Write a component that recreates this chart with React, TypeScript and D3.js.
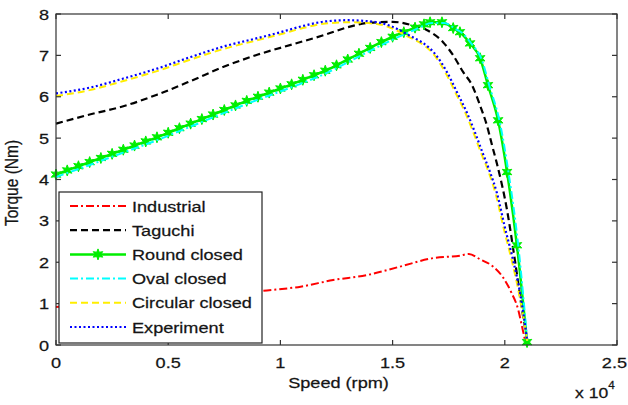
import * as d3 from 'd3';
import React from 'react';

// speed in 1e4 rpm, torque in Nm
const industrialX = [0, 0.3, 0.6, 0.94, 1.09, 1.235, 1.385, 1.53, 1.68, 1.8, 1.84, 1.89, 1.947, 1.99, 2.03, 2.06, 2.077, 2.09];
const industrialY = [0.92, 1.04, 1.16, 1.32, 1.41, 1.57, 1.69, 1.89, 2.1, 2.16, 2.2, 2.07, 1.9, 1.65, 1.26, 0.85, 0.44, 0.12];

const taguchiX = [0, 0.15, 0.3, 0.45, 0.6, 0.75, 0.9, 1.05, 1.2, 1.3, 1.4, 1.5, 1.58, 1.65, 1.725, 1.77, 1.814, 1.854, 1.889, 1.92, 1.943, 1.965, 2.01, 2.045, 2.077, 2.1];
const taguchiY = [5.35, 5.57, 5.77, 6.05, 6.38, 6.73, 7.02, 7.26, 7.5, 7.68, 7.79, 7.81, 7.74, 7.62, 7.32, 7.0, 6.6, 6.28, 5.8, 5.31, 4.83, 4.38, 3.26, 2.05, 0.85, 0.1];

const roundX = [0, 0.05, 0.1, 0.15, 0.2, 0.25, 0.3, 0.35, 0.4, 0.45, 0.5, 0.55, 0.6, 0.65, 0.7, 0.75, 0.8, 0.85, 0.9, 0.95, 1.0, 1.05, 1.1, 1.15, 1.2, 1.25, 1.3, 1.35, 1.4, 1.45, 1.5, 1.55, 1.6, 1.64, 1.667, 1.72, 1.77, 1.8, 1.845, 1.89, 1.925, 1.97, 2.01, 2.054, 2.099];
const roundY = [4.12, 4.22, 4.32, 4.42, 4.52, 4.62, 4.72, 4.82, 4.92, 5.02, 5.13, 5.24, 5.35, 5.46, 5.57, 5.68, 5.79, 5.9, 6.0, 6.1, 6.2, 6.3, 6.41, 6.52, 6.63, 6.76, 6.9, 7.04, 7.18, 7.32, 7.45, 7.56, 7.67, 7.75, 7.8, 7.8, 7.66, 7.56, 7.29, 6.93, 6.28, 5.43, 4.18, 2.41, 0.07];

const ovalX = [0, 0.15, 0.3, 0.45, 0.6, 0.75, 0.9, 1.05, 1.2, 1.3, 1.4, 1.5, 1.6, 1.675, 1.73, 1.78, 1.81, 1.853, 1.897, 1.932, 1.977, 2.017, 2.06, 2.1];
const ovalY = [4.06, 4.35, 4.65, 4.95, 5.28, 5.61, 5.93, 6.23, 6.56, 6.83, 7.11, 7.38, 7.62, 7.78, 7.78, 7.64, 7.54, 7.27, 6.9, 6.25, 5.4, 4.15, 2.4, 0.1];

const circularX = [0, 0.15, 0.3, 0.45, 0.6, 0.75, 0.9, 1.0, 1.1, 1.2, 1.3, 1.43, 1.56, 1.695, 1.737, 1.782, 1.825, 1.862, 1.895, 1.93, 1.96, 1.995, 2.032, 2.064, 2.1];
const circularY = [6.02, 6.16, 6.38, 6.62, 6.9, 7.16, 7.37, 7.51, 7.66, 7.77, 7.8, 7.76, 7.48, 6.94, 6.57, 6.08, 5.6, 5.11, 4.63, 4.15, 3.64, 2.82, 2.02, 1.23, 0.1];

const experimentX = [0, 0.15, 0.3, 0.45, 0.6, 0.75, 0.9, 1.0, 1.1, 1.2, 1.3, 1.43, 1.565, 1.7, 1.742, 1.787, 1.83, 1.867, 1.9, 1.934, 1.965, 2.0, 2.037, 2.068, 2.1];
const experimentY = [6.08, 6.22, 6.44, 6.68, 6.96, 7.22, 7.42, 7.56, 7.71, 7.82, 7.85, 7.8, 7.51, 6.96, 6.6, 6.11, 5.63, 5.14, 4.66, 4.18, 3.67, 2.85, 2.05, 1.26, 0.1];

const xTicks = [0, 0.5, 1, 1.5, 2, 2.5];
const xTickLabels = ['0', '0.5', '1', '1.5', '2', '2.5'];
const yTicks = [0, 1, 2, 3, 4, 5, 6, 7, 8];

const series = [
  { name: 'Industrial', xs: industrialX, ys: industrialY, color: '#ff0000', dash: '8,3,2,3', width: 2, marker: false },
  { name: 'Taguchi', xs: taguchiX, ys: taguchiY, color: '#000000', dash: '7,4', width: 2.2, marker: false },
  { name: 'Round closed', xs: roundX, ys: roundY, color: '#00ee00', dash: null, width: 2.5, marker: true },
  { name: 'Oval closed', xs: ovalX, ys: ovalY, color: '#00ffff', dash: '8,3,2,3', width: 2, marker: false },
  { name: 'Circular closed', xs: circularX, ys: circularY, color: '#ffee00', dash: '7,4', width: 2, marker: false },
  { name: 'Experiment', xs: experimentX, ys: experimentY, color: '#0000ff', dash: '2,2.5', width: 2.2, marker: false },
];

const W = 628, H = 405;
const margin = { top: 14, right: 11, bottom: 60, left: 56 };
const SX = 1.17; // glyphs in the picture are stretched horizontally
const FONT = 'Arial, "Liberation Sans", sans-serif';
const INK = '#151515';

function hexagram(r: number) {
  const p = d3.path();
  for (let i = 0; i < 12; i++) {
    const a = -Math.PI / 2 + i * Math.PI / 6;
    const rr = i % 2 === 0 ? r : r * 0.45;
    const px = rr * Math.cos(a), py = rr * Math.sin(a);
    if (i === 0) p.moveTo(px, py); else p.lineTo(px, py);
  }
  p.closePath();
  return p.toString();
}

export default function App() {
  const x = d3.scaleLinear().domain([0, 2.5]).range([margin.left, W - margin.right]);
  const y = d3.scaleLinear().domain([0, 8]).range([H - margin.bottom, margin.top]);
  const line = d3.line<[number, number]>()
    .x(d => x(d[0]))
    .y(d => y(d[1]))
    .curve(d3.curveMonotoneX);

  const x0 = x(0), x1 = x(2.5), y0 = y(0), y1 = y(8);
  const star = hexagram(5.5);

  const leg = { x: 59, y: 192, w: 203, h: 151 };
  const rowY = (i: number) => 206 + i * 24.2;
  const txt = { fontSize: 15.5, fill: INK, stroke: INK, strokeWidth: 0.25 };

  return (
    <div style={{ position: 'fixed', left: 0, top: 0 }}>
      <svg width={W} height={H} style={{ display: 'block', background: '#fff' }} fontFamily={FONT}>
        {/* curves */}
        {series.map(s => {
          const pts = s.xs.map((v, i) => [v, s.ys[i]] as [number, number]);
          return (
            <g key={s.name}>
              <path d={line(pts) || ''} fill="none" stroke={s.color} strokeWidth={s.width}
                strokeDasharray={s.dash || undefined} />
              {s.marker && pts.map((p, i) => (
                <path key={i} d={star} transform={`translate(${x(p[0])},${y(p[1])})`}
                  fill={s.color} stroke={s.color} strokeWidth={1} />
              ))}
            </g>
          );
        })}

        {/* axes box and ticks */}
        <rect x={x0} y={y1} width={x1 - x0} height={y0 - y1} fill="none" stroke="#333" strokeWidth={1.2} />
        {xTicks.map((t, i) => {
          const last = i === xTicks.length - 1;
          return (
            <g key={'xt' + i}>
              <line x1={x(t)} x2={x(t)} y1={y0} y2={y0 - 5} stroke="#333" strokeWidth={1.2} />
              <line x1={x(t)} x2={x(t)} y1={y1} y2={y1 + 5} stroke="#333" strokeWidth={1.2} />
              <text transform={`translate(${last ? W - 1 : x(t)},${y0 + 23}) scale(${SX},1)`}
                textAnchor={last ? 'end' : 'middle'} {...txt}>{xTickLabels[i]}</text>
            </g>
          );
        })}
        {yTicks.map(t => (
          <g key={'yt' + t}>
            <line x1={x0} x2={x0 + 5} y1={y(t)} y2={y(t)} stroke="#333" strokeWidth={1.2} />
            <line x1={x1} x2={x1 - 5} y1={y(t)} y2={y(t)} stroke="#333" strokeWidth={1.2} />
            <text transform={`translate(${x0 - 7},${y(t) + 5.5}) scale(${SX},1)`} textAnchor="end" {...txt}>{t}</text>
          </g>
        ))}

        {/* axis titles */}
        <text transform={`translate(${(x0 + x1) / 2 + 2},388) scale(${SX},1)`} textAnchor="middle" {...txt}>Speed (rpm)</text>
        <text transform={`translate(18,183) rotate(-90) scale(1,${SX})`} textAnchor="middle" {...txt}>Torque (Nm)</text>
        <text transform={`translate(575,398) scale(${SX},1)`} {...txt} fontSize={15}>
          x 10<tspan dy={-9} fontSize={10}>4</tspan>
        </text>

        {/* legend */}
        <rect x={leg.x} y={leg.y} width={leg.w} height={leg.h} fill="#fff" stroke="#222" strokeWidth={1.2} />
        {series.map((s, i) => (
          <g key={'lg' + i}>
            <line x1={70} x2={126} y1={rowY(i)} y2={rowY(i)} stroke={s.color} strokeWidth={s.width}
              strokeDasharray={s.dash || undefined} />
            {s.marker && <path d={star} transform={`translate(98,${rowY(i)})`} fill={s.color} stroke={s.color} />}
            <text transform={`translate(132,${rowY(i) + 5.5}) scale(${SX},1)`} {...txt}>{s.name}</text>
          </g>
        ))}
      </svg>
    </div>
  );
}
